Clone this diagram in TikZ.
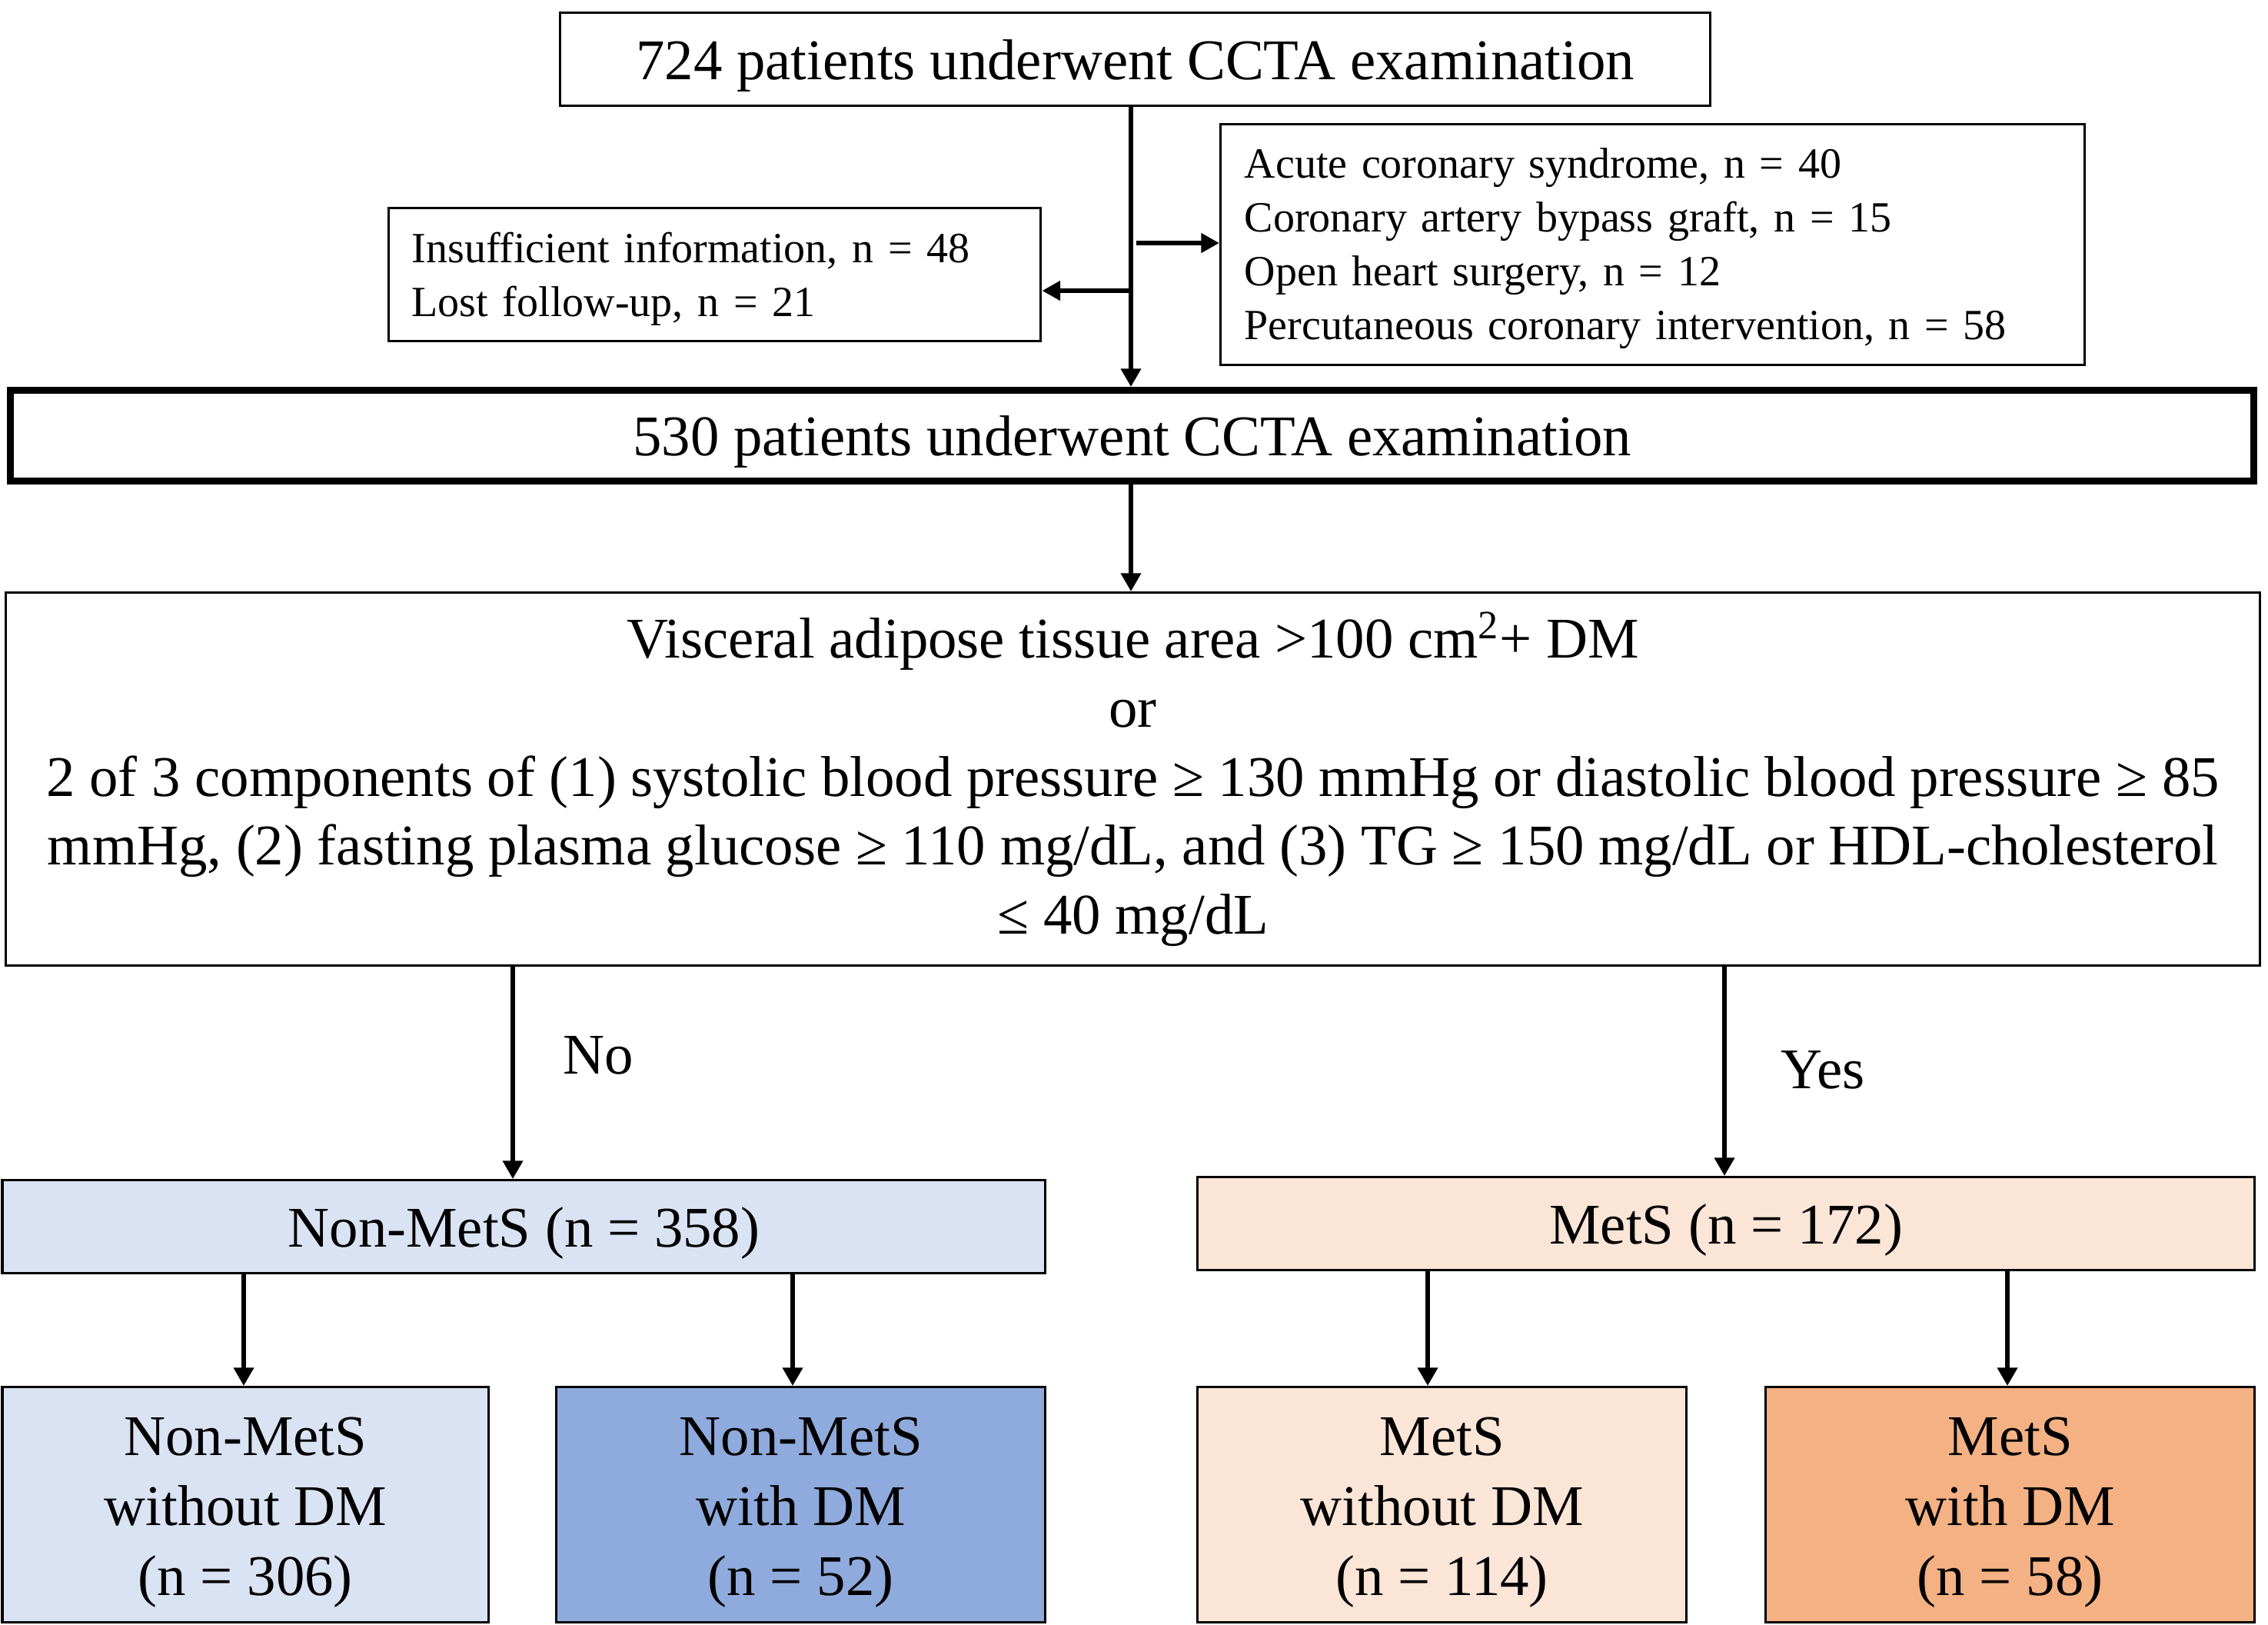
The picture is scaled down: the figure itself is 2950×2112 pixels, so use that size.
\documentclass[tikz,border=0pt]{standalone}
\usepackage{fontspec}
\setmainfont{Liberation Serif}
\usetikzlibrary{arrows.meta}
\definecolor{nmlight}{HTML}{DAE3F3}
\definecolor{nmdark}{HTML}{8FAADC}
\definecolor{mlight}{HTML}{FBE5D6}
\definecolor{mdark}{HTML}{F4B183}
\newcommand{\firstup}{\rule{0pt}{17.4pt}}
\begin{document}
\begin{tikzpicture}[x=0.25pt,y=-0.25pt,
  box/.style={draw, line width=0.85pt, inner sep=0pt, align=center, anchor=north west,
    font=\fontsize{18.7}{22.4}\selectfont},
  onebox/.style={box, text height=13pt, text depth=0pt},
  exbox/.style={draw, line width=0.85pt, inner ysep=0pt, align=left, anchor=north west,
    font=\fontsize{14}{17.5}\selectfont},
  subbox/.style={box, minimum width=159pt, minimum height=76.5pt,
    font=\fontsize{18.7}{22.75}\selectfont},
  conn/.style={line width=1.6pt, -{Triangle[length=5.9pt,width=6.3pt]}},
  exarrow/.style={line width=1.65pt, -{Triangle[length=5.9pt,width=6.1pt]}},
  lbl/.style={inner sep=0pt, font=\fontsize{18.7}{22}\selectfont}]
\useasboundingbox (0,0) rectangle (2950,2112);

\node[onebox, minimum width=374pt, minimum height=30.25pt]
  (top) at (727,15) {724 patients underwent CCTA examination};

\node[exbox, minimum height=43.25pt, inner xsep=7.5pt, text width=197pt]
  (exL) at (504,269) {\rule{0pt}{12.4pt}Insufficient information, n = 48\\Lost follow-up, n = 21};

\node[exbox, minimum height=78.25pt, inner xsep=7.75pt, text width=265.5pt]
  (exR) at (1586,160) {\rule{0pt}{12.4pt}Acute coronary syndrome, n = 40\\Coronary artery bypass graft, n = 15\\Open heart surgery, n = 12\\Percutaneous coronary intervention, n = 58};

\node[onebox, line width=2.25pt, minimum width=729.5pt, minimum height=29.5pt]
  (b530) at (9,503) {530 patients underwent CCTA examination};

\node[box, minimum width=733pt, minimum height=121.25pt]
  (crit) at (6,769) {Visceral adipose tissue area >100 cm\textsuperscript{2}+ DM\\
  or\\
  2 of 3 components of (1) systolic blood pressure ≥ 130 mmHg or diastolic blood pressure ≥ 85\\
  mmHg, (2) fasting plasma glucose ≥ 110 mg/dL, and (3) TG ≥ 150 mg/dL or HDL-cholesterol\\
  ≤ 40 mg/dL};

\node[onebox, fill=nmlight, minimum width=339.1pt, minimum height=30.25pt]
  (nonmets) at (1.5,1533) {Non-MetS (n = 358)};
\node[onebox, fill=mlight, minimum width=343.75pt, minimum height=30.25pt]
  (mets) at (1556,1529) {MetS (n = 172)};

\node[subbox, fill=nmlight, minimum width=158.1pt] (nmwo) at (1.5,1802) {\firstup Non-MetS\\without DM\\(n = 306)};
\node[subbox, fill=nmdark] (nmw) at (722,1802) {\firstup Non-MetS\\with DM\\(n = 52)};
\node[subbox, fill=mlight] (mwo) at (1556,1802) {\firstup MetS\\without DM\\(n = 114)};
\node[subbox, fill=mdark] (mw) at (2295,1802) {\firstup MetS\\with DM\\(n = 58)};

\node[lbl, anchor=base west] (no) at (732,1396) {No};
\node[lbl, anchor=base west] (yes) at (2316,1415) {Yes};

\coordinate (sx) at (1471,0);
\coordinate (jR) at (1478,316);
\coordinate (jL) at (1471,378);
\coordinate (cNo) at (667,0);
\coordinate (cYes) at (2243,0);
\coordinate (c1) at (317,0);
\coordinate (c2) at (1031,0);
\coordinate (c3) at (1857,0);
\coordinate (c4) at (2611,0);

\draw[conn] (top.south -| sx) -- (b530.north -| sx);
\draw[exarrow] (jR) -- (jR -| exR.west);
\draw[exarrow] (jL) -- (jL -| exL.east);
\draw[conn] (b530.south -| sx) -- (crit.north -| sx);
\draw[conn] (crit.south -| cNo) -- (nonmets.north -| cNo);
\draw[conn] (crit.south -| cYes) -- (mets.north -| cYes);
\draw[conn] (nonmets.south -| c1) -- (nmwo.north -| c1);
\draw[conn] (nonmets.south -| c2) -- (nmw.north -| c2);
\draw[conn] (mets.south -| c3) -- (mwo.north -| c3);
\draw[conn] (mets.south -| c4) -- (mw.north -| c4);
\end{tikzpicture}
\end{document}
